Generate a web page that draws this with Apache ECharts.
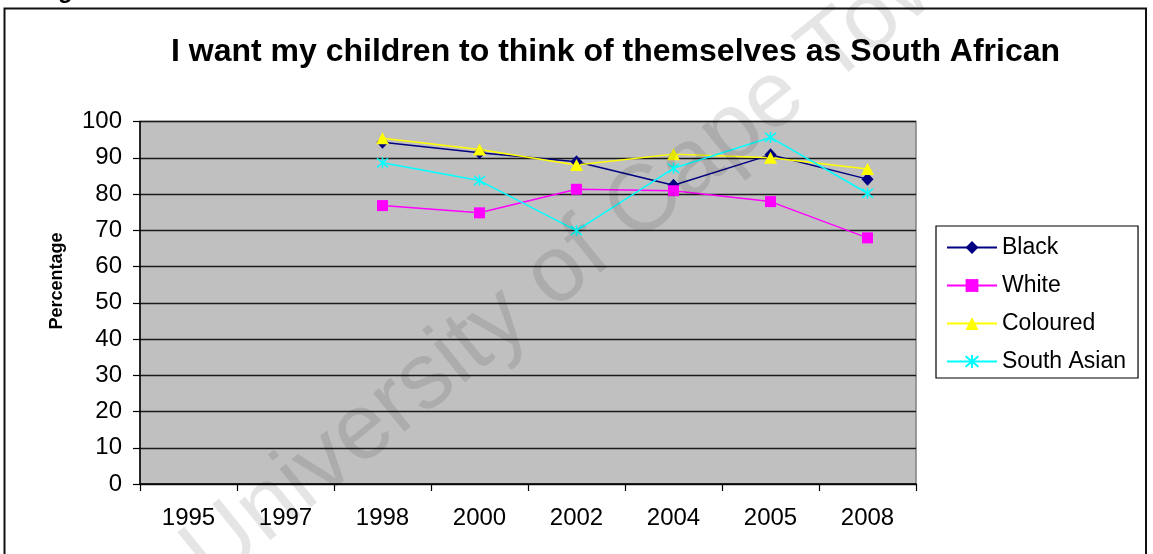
<!DOCTYPE html>
<html>
<head>
<meta charset="utf-8">
<script src="https://cdn.jsdelivr.net/npm/echarts@6/dist/echarts.min.js"></script>
<style>
  html, body { margin: 0; padding: 0; background: #fff; }
  #chart { width: 1153px; height: 554px; }
</style>
</head>
<body>
<div id="chart"></div>
<script>
// Survey years on the category axis
const years = ['1995', '1997', '1998', '2000', '2002', '2004', '2005', '2008'];
// Percentage agreeing, per population group (no survey data for 1995 / 1997)
const black      = [null, null, 94.3, 91.4, 88.9, 82.4, 90.8, 84.1];
const white      = [null, null, 76.8, 74.8, 81.3, 80.9, 77.9, 67.9];
const coloured   = [null, null, 95.4, 92.3, 88.0, 91.0, 90.0, 86.9];
const southAsian = [null, null, 88.6, 83.7, 69.9, 87.1, 95.6, 80.2];
// Value axis ticks
const yTicks = { min: 0, max: 100, step: 10 };

const FONT = '"Liberation Sans", Arial, sans-serif';
const asterisk = 'path://M0,0L10,10M10,0L0,10M5,-1L5,11';

function lineSeries(name, data, color, symbol, size, extra) {
  return Object.assign({
    name: name,
    type: 'line',
    data: data,
    symbol: symbol,
    symbolSize: size,
    showSymbol: true,
    connectNulls: false,
    animation: false,
    lineStyle: { color: color, width: 1.5 },
    itemStyle: { color: color }
  }, extra || {});
}

const chart = echarts.init(document.getElementById('chart'), null, { renderer: 'canvas' });
chart.setOption({
  backgroundColor: '#ffffff',
  animation: false,
  title: {
    text: 'I want my children to think of themselves as South African',
    left: 166,
    top: 31,
    textStyle: { fontFamily: FONT, fontSize: 32, fontWeight: 'bold', color: '#000' }
  },
  grid: {
    left: 140, right: 237, top: 121.5, bottom: 70,
    show: true,
    backgroundColor: '#C0C0C0',
    borderColor: '#808080',
    borderWidth: 1.5
  },
  legend: {
    orient: 'vertical',
    left: 936, top: 226,
    padding: [10, 12, 5, 10],
    itemWidth: 50, itemHeight: 16, itemGap: 15, itemTextGap: 6,
    borderColor: '#000', borderWidth: 1.2,
    backgroundColor: '#fff',
    textStyle: { fontFamily: FONT, fontSize: 23, color: '#000' },
    data: ['Black', 'White', 'Coloured', 'South Asian']
  },
  xAxis: {
    type: 'category',
    data: years,
    boundaryGap: true,
    axisLine: { show: true, lineStyle: { color: '#000', width: 1.5 } },
    axisTick: { show: true, length: 7, alignWithLabel: false, lineStyle: { color: '#000', width: 1.2 } },
    axisLabel: { fontFamily: FONT, fontSize: 24, color: '#000', margin: 22 },
    splitLine: { show: false }
  },
  yAxis: {
    type: 'value',
    min: yTicks.min, max: yTicks.max, interval: yTicks.step,
    axisLine: { show: true, lineStyle: { color: '#000', width: 1.5 } },
    axisTick: { show: true, length: 7, lineStyle: { color: '#000', width: 1.2 } },
    axisLabel: { fontFamily: FONT, fontSize: 24, color: '#000', margin: 18 },
    splitLine: { show: true, lineStyle: { color: '#1a1a1a', width: 1.3 } }
  },
  series: [
    lineSeries('Black', black, '#000080', 'diamond', [12, 13]),
    lineSeries('White', white, '#FF00FF', 'rect', 11),
    lineSeries('Coloured', coloured, '#FFFF00', 'triangle', [13, 12]),
    lineSeries('South Asian', southAsian, '#00FFFF', asterisk, 11, {
      itemStyle: { color: 'rgba(0,0,0,0)', borderColor: '#00FFFF', borderWidth: 1.5 }
    })
  ],
  graphic: [
    {
      // value axis title
      type: 'text',
      silent: true,
      x: 57, y: 281,
      rotation: Math.PI / 2,
      style: {
        text: 'Percentage',
        font: 'bold 18px ' + FONT,
        fill: '#000',
        align: 'center',
        verticalAlign: 'middle'
      }
    },
    {
      type: 'rect',
      silent: true,
      shape: { x: 4.5, y: 8.5, width: 1141.5, height: 560 },
      style: { fill: 'none', stroke: '#111', lineWidth: 2 },
      z: 100
    },
    {
      type: 'text',
      silent: true,
      x: 58, y: 3,
      style: { text: 'g', font: 'bold 24px ' + FONT, fill: '#000', verticalAlign: 'bottom' },
      z: 100
    },
    {
      type: 'text',
      silent: true,
      x: 590, y: 248,
      rotation: 39 * Math.PI / 180,
      style: {
        text: 'University of Cape Town',
        font: '94px ' + FONT,
        fill: 'rgba(0,0,0,0.1)',
        align: 'center',
        verticalAlign: 'middle'
      },
      z: 100
    }
  ]
});
</script>
</body>
</html>
